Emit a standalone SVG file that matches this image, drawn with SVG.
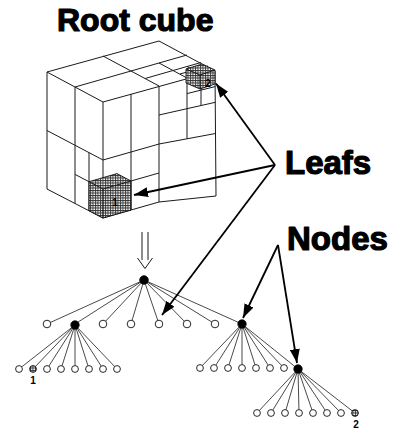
<svg xmlns="http://www.w3.org/2000/svg" width="393" height="432" viewBox="0 0 393 432">
<defs>
<style>
.ttl{font-family:"Liberation Sans",Arial,sans-serif;font-weight:bold;fill:#000;stroke:#000;stroke-width:1.2;stroke-linejoin:round}
.num{font-family:"Liberation Sans",Arial,sans-serif;font-weight:bold;fill:#000;font-size:10px}
.cube{fill:none;stroke:#1a1a1a;stroke-width:1;stroke-linejoin:round}
.edge{stroke:#1a1a1a;stroke-width:0.8;fill:none}
.arr{stroke:#000;stroke-width:1.8;fill:none;marker-end:url(#ah)}
.leaf{fill:#fff;stroke:#111;stroke-width:0.9}
.hleaf{fill:url(#hatch);stroke:#111;stroke-width:0.9}
.inner{fill:#000;stroke:#000;stroke-width:0.8}
</style>
<pattern id="hatch" width="2.5" height="2.5" patternUnits="userSpaceOnUse">
<rect width="2.5" height="2.5" fill="#fff"/>
<path d="M0,0.5H2.5M0.5,0V2.5" stroke="#333" stroke-width="0.9"/>
</pattern>
<marker id="ah" viewBox="0 0 14 10" refX="14" refY="5" markerWidth="14" markerHeight="10" markerUnits="userSpaceOnUse" orient="auto">
<path d="M0,0L14,5L0,10z" fill="#000"/>
</marker>
</defs>
<rect width="393" height="432" fill="#fff"/>

<text class="ttl" x="57" y="31" font-size="32">Root cube</text>
<text class="ttl" x="285" y="174" font-size="33">Leafs</text>
<text class="ttl" x="287" y="250" font-size="33">Nodes</text>

<g id="cube">
<path class="cube" d="M47,72L159,41L215,71L103,102Z"/>
<path class="cube" d="M47,72V189L103,218L159,202L216,196L215,71M103,102V218"/>
<path class="cube" d="M103,56L131,71L159,86M75,87L131,71L187,55"/>
<path class="cube" d="M159,63L187,78M145,78.5L201,62.5M187,66.5L201,74M180,74L208,66"/>
<path class="cube" d="M159,86V202M103,160L159,144L215.5,133.5M187,78.5V138.75M159,115L215.3,102.3M201,74.8V105.4M187,93.6L215.1,86.6"/>
<path class="cube" d="M131,94V210M103,189L159,173"/>
<path class="cube" d="M75,87V203.5M47,130.5L103,160M89,152.6V210.8M75,174.4L103,189"/>
<g id="leaf1cube">
<path class="hleaf" d="M89,181.7L117,173.6L131,181V210L103,218L89,210.8Z"/>
<path class="cube" d="M89,181.7L103,189L131,181M103,189V218"/>
<text class="num" x="115" y="206" text-anchor="middle">1</text>
</g>
<g id="leaf2cube">
<path class="hleaf" d="M186,69L202,64L215,70V84L200,89L186,83Z"/>
<path class="cube" d="M186,69L200,75L215,70M200,75V89"/>
<text class="num" x="208" y="87" text-anchor="middle">2</text>
</g>
</g>

<g id="refine-arrow" class="cube" stroke="#333">
<path d="M142,232V260M148,232V260M137.5,258L145,268.5L152.5,258"/>
</g>

<g id="connectors">
<path class="edge" d="M144,280L47,324M144,280L75,324M144,280L103,324M144,280L131,324M144,280L159,324M144,280L187,324M144,280L215,324M144,280L242,324"/>
<path class="edge" d="M75,325L19,369M75,325L33,369M75,325L47,369M75,325L61,369M75,325L75,369M75,325L89,369M75,325L103,369M75,325L117,369"/>
<path class="edge" d="M242,324L200,368M242,324L214,368M242,324L228,368M242,324L242,368M242,324L256,368M242,324L270,368M242,324L284,368M242,324L298,369"/>
<path class="edge" d="M298,369L257,413M298,369L271,413M298,369L285,413M298,369L299,413M298,369L313,413M298,369L327,413M298,369L341,413M298,369L355,413"/>
<path class="arr" d="M275,165L216,83.5"/>
<path class="arr" d="M275,165L134,195"/>
<path class="arr" d="M275,165L162,315"/>
<path class="arr" d="M278,245L243,318"/>
<path class="arr" d="M278,245L297,363"/>
</g>

<g id="root"><circle class="inner" cx="144" cy="280" r="4.3"/></g>
<g id="n1a"><circle class="leaf" cx="47" cy="324" r="3.8"/></g>
<g id="n1b"><circle class="inner" cx="75" cy="325" r="4.2"/></g>
<g id="n1c"><circle class="leaf" cx="103" cy="324" r="3.8"/></g>
<g id="n1d"><circle class="leaf" cx="131" cy="324" r="3.8"/></g>
<g id="n1e"><circle class="leaf" cx="159" cy="324" r="3.8"/></g>
<g id="n1f"><circle class="leaf" cx="187" cy="324" r="3.8"/></g>
<g id="n1g"><circle class="leaf" cx="215" cy="324" r="3.8"/></g>
<g id="n1h"><circle class="inner" cx="242" cy="324" r="4.2"/></g>

<g id="n2a"><circle class="leaf" cx="19" cy="369" r="3.4"/></g>
<g id="n2b"><circle class="hleaf" cx="33" cy="369" r="3.4"/><text class="num" x="33" y="384" text-anchor="middle" font-size="9">1</text></g>
<g id="n2c"><circle class="leaf" cx="47" cy="369" r="3.4"/></g>
<g id="n2d"><circle class="leaf" cx="61" cy="369" r="3.4"/></g>
<g id="n2e"><circle class="leaf" cx="75" cy="369" r="3.4"/></g>
<g id="n2f"><circle class="leaf" cx="89" cy="369" r="3.4"/></g>
<g id="n2g"><circle class="leaf" cx="103" cy="369" r="3.4"/></g>
<g id="n2h"><circle class="leaf" cx="117" cy="369" r="3.4"/></g>

<g id="n3a"><circle class="leaf" cx="200" cy="368" r="3.4"/></g>
<g id="n3b"><circle class="leaf" cx="214" cy="368" r="3.4"/></g>
<g id="n3c"><circle class="leaf" cx="228" cy="368" r="3.4"/></g>
<g id="n3d"><circle class="leaf" cx="242" cy="368" r="3.4"/></g>
<g id="n3e"><circle class="leaf" cx="256" cy="368" r="3.4"/></g>
<g id="n3f"><circle class="leaf" cx="270" cy="368" r="3.4"/></g>
<g id="n3g"><circle class="leaf" cx="284" cy="368" r="3.4"/></g>
<g id="n3h"><circle class="inner" cx="298" cy="369" r="4.2"/></g>

<g id="n4a"><circle class="leaf" cx="257" cy="413" r="3.4"/></g>
<g id="n4b"><circle class="leaf" cx="271" cy="413" r="3.4"/></g>
<g id="n4c"><circle class="leaf" cx="285" cy="413" r="3.4"/></g>
<g id="n4d"><circle class="leaf" cx="299" cy="413" r="3.4"/></g>
<g id="n4e"><circle class="leaf" cx="313" cy="413" r="3.4"/></g>
<g id="n4f"><circle class="leaf" cx="327" cy="413" r="3.4"/></g>
<g id="n4g"><circle class="leaf" cx="341" cy="413" r="3.4"/></g>
<g id="n4h"><circle class="hleaf" cx="355" cy="413" r="3.4"/><text class="num" x="356" y="428" text-anchor="middle" font-size="9">2</text></g>
</svg>
